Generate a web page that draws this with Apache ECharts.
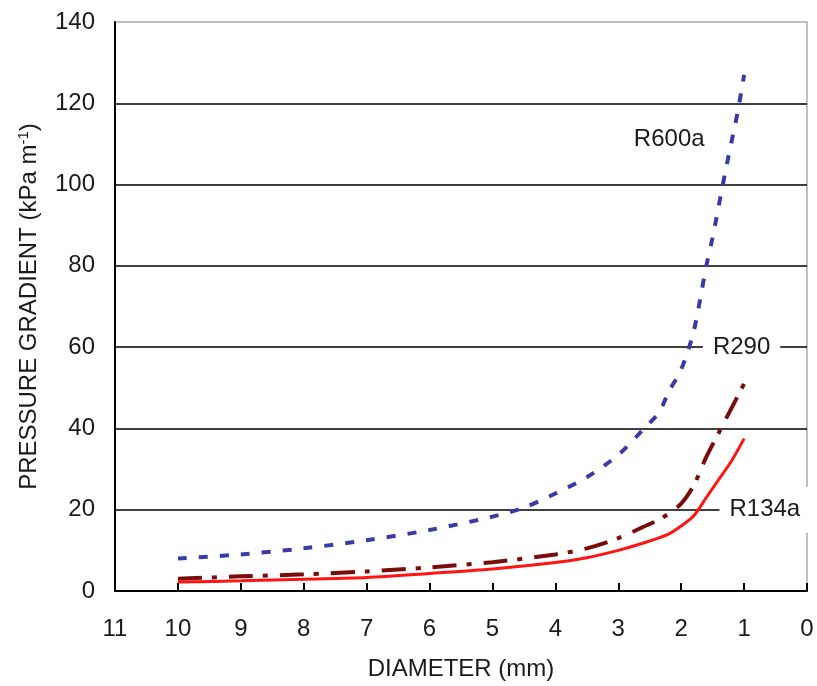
<!DOCTYPE html>
<html>
<head>
<meta charset="utf-8">
<script src="https://cdn.jsdelivr.net/npm/echarts@6/dist/echarts.min.js"></script>
<style>
  html, body { margin: 0; padding: 0; background: #fff; }
  #chart { width: 817px; height: 686px; }
</style>
</head>
<body>
<div id="chart"></div>
<script>
  // diameter (mm), pressure gradient (kPa/m)
  const r600a = [[10, 8], [9, 9], [8, 10.5], [7, 12.5], [6, 15], [5, 18.3], [4.5, 20.5], [4, 24], [3.5, 28], [3, 33.5], [2.6, 39.8], [2.35, 44], [2.2, 49], [2, 54.5], [1.8, 64], [1.6, 80], [1.5, 87], [1.4, 95], [1.3, 103], [1.2, 110.5], [1.1, 118], [1, 127]]
  const r290 = [[10, 3], [9, 3.6], [8, 4.1], [7, 4.8], [6, 5.8], [5, 7.1], [4, 9], [3.5, 10.5], [3, 13], [2.6, 15.8], [2.3, 18], [2, 21.5], [1.8, 26], [1.6, 33], [1.4, 39], [1.2, 45], [1, 51]]
  const r134a = [[10, 2.2], [9, 2.5], [8, 2.9], [7, 3.3], [6, 4.3], [5, 5.4], [4, 7], [3.5, 8.2], [3, 10], [2.6, 11.8], [2.2, 14], [2, 16], [1.8, 18.5], [1.6, 23], [1.4, 27.5], [1.2, 32], [1, 37.5]]
  const seriesLabels = [[2.19, 111, 'R600a'], [1.04, 60, 'R290'], [0.67, 20, 'R134a']]

  const font = 'Liberation Sans, Arial, sans-serif'
  let chart = echarts.init(document.getElementById('chart'))
  let option = {
    animation: false,
    grid: {
      left: 115,
      right: 10,
      top: 22,
      bottom: 93,
      show: true,
      borderColor: '#aaa',
      borderWidth: 1.5
    },
    xAxis: {
      type: 'value',
      inverse: true,
      min: 0,
      max: 11,
      interval: 1,
      name: 'DIAMETER (mm)',
      nameLocation: 'middle',
      nameGap: 66,
      nameTextStyle: { color: '#1a1a1a', fontSize: 24, fontFamily: font },
      axisLine: { lineStyle: { color: '#000', width: 2 } },
      axisTick: { inside: true, length: 8, lineStyle: { color: '#000', width: 2 } },
      axisLabel: { color: '#1a1a1a', fontSize: 24, fontFamily: font, margin: 26 },
      splitLine: { show: false }
    },
    yAxis: {
      type: 'value',
      min: 0,
      max: 140,
      interval: 20,
      name: 'PRESSURE GRADIENT (kPa m{sup|-1})',
      nameLocation: 'middle',
      nameGap: 72,
      nameTextStyle: {
        color: '#1a1a1a',
        fontSize: 24,
        fontFamily: font,
        rich: {
          sup: { fontSize: 15, verticalAlign: 'top', padding: [0, 0, 12, 0], color: '#1a1a1a', fontFamily: font }
        }
      },
      axisLine: { show: true, onZero: false, lineStyle: { color: '#000', width: 2 } },
      axisTick: { show: false },
      axisLabel: { color: '#1a1a1a', fontSize: 24, fontFamily: font, margin: 20 },
      splitLine: { show: true, showMaxLine: false, lineStyle: { color: '#000', width: 1.5 } }
    },
    series: [
      {
        type: 'line',
        data: r600a,
        smooth: 0.3,
        symbol: 'none',
        lineStyle: { color: '#3a3aa6', width: 4, type: [9, 12] }
      },
      {
        type: 'line',
        data: r290,
        smooth: 0.3,
        symbol: 'none',
        lineStyle: { color: '#7a0c0c', width: 4, type: [24, 10, 5, 12] }
      },
      {
        type: 'line',
        data: r134a,
        smooth: 0.3,
        symbol: 'none',
        lineStyle: { color: '#ff1414', width: 3 }
      },
      {
        type: 'scatter',
        data: seriesLabels,
        symbolSize: 0,
        z: 10,
        silent: true,
        itemStyle: { opacity: 1 },
        label: {
          show: true,
          position: 'inside',
          formatter: p => p.data[2],
          color: '#1a1a1a',
          fontSize: 24,
          fontFamily: font,
          backgroundColor: '#fff',
          padding: [11, 10, 11, 10]
        }
      }
    ]
  }
  chart.setOption(option)
</script>
</body>
</html>
